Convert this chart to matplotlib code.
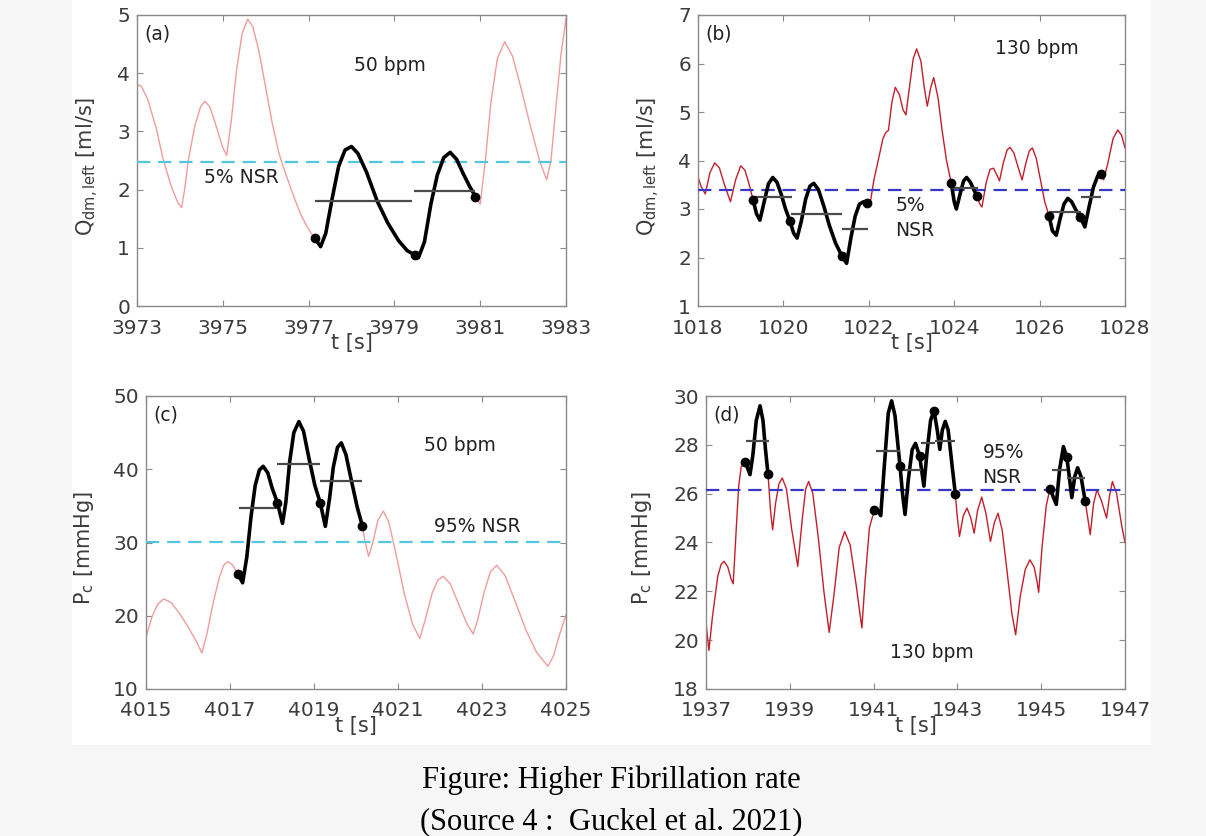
import numpy as np
import matplotlib
matplotlib.use("Agg")
import matplotlib.pyplot as plt
from matplotlib.patches import Rectangle

plt.rcParams['font.family'] = ['DejaVu Sans']
plt.rcParams['mathtext.default'] = 'regular'

# ---------------- data ----------------
# (a) Q_dm,left at 50 bpm
t_a = [3973.00, 3973.10, 3973.25, 3973.45, 3973.60, 3973.80, 3973.95, 3974.04, 3974.12,
       3974.19, 3974.35, 3974.48, 3974.58, 3974.70, 3974.85, 3975.00, 3975.09, 3975.20,
       3975.32, 3975.45, 3975.58, 3975.70, 3975.85, 3976.00, 3976.15, 3976.30, 3976.37,
       3976.50, 3976.68, 3976.80, 3976.95, 3977.05, 3977.14, 3977.28, 3977.40, 3977.55,
       3977.70, 3977.85, 3978.00, 3978.15, 3978.35, 3978.60, 3978.85, 3979.10, 3979.30,
       3979.47, 3979.56, 3979.70, 3979.85, 3980.00, 3980.15, 3980.30, 3980.45, 3980.60,
       3980.75, 3980.89, 3981.00, 3981.12, 3981.25, 3981.40, 3981.57, 3981.75, 3981.95,
       3982.15, 3982.39, 3982.55, 3982.65, 3982.75, 3982.88, 3983.00]
q_a = [3.80, 3.78, 3.55, 3.05, 2.55, 2.05, 1.78, 1.69, 2.05,
       2.48, 3.10, 3.42, 3.52, 3.42, 3.08, 2.72, 2.59, 3.20,
       4.05, 4.68, 4.93, 4.80, 4.35, 3.75, 3.15, 2.65, 2.48,
       2.20, 1.83, 1.60, 1.38, 1.26, 1.17, 1.02, 1.25, 1.85,
       2.40, 2.68, 2.74, 2.62, 2.30, 1.80, 1.42, 1.12, 0.95,
       0.88, 0.83, 1.10, 1.75, 2.25, 2.55, 2.64, 2.52, 2.28,
       2.06, 1.88, 1.75, 2.50, 3.50, 4.25, 4.54, 4.30, 3.75,
       3.15, 2.48, 2.17, 2.50, 3.30, 4.30, 4.94]
dot_a_t = [3977.14, 3979.47, 3980.89]
dot_a_v = [1.17, 0.88, 1.88]
seg_a = [(3977.14, 3980.89)]
hl_a_start = [3977.15, 3979.46]
hl_a_end = [3979.40, 3980.88]
hl_a_level = [1.80, 1.98]
nsr_a = 2.48

# (b) Q_dm,left at 130 bpm
t_b = [1018.00, 1018.08, 1018.17, 1018.28, 1018.39, 1018.50, 1018.62, 1018.76, 1018.88,
       1019.00, 1019.10, 1019.20, 1019.29, 1019.37, 1019.45, 1019.55, 1019.65, 1019.75,
       1019.85, 1019.95, 1020.05, 1020.15, 1020.24, 1020.32, 1020.42, 1020.52, 1020.62,
       1020.71, 1020.82, 1020.95, 1021.08, 1021.22, 1021.37, 1021.48, 1021.58, 1021.68,
       1021.78, 1021.88, 1021.95, 1022.02, 1022.12, 1022.24, 1022.33, 1022.40, 1022.46,
       1022.54, 1022.62, 1022.72, 1022.80, 1022.87, 1022.95, 1023.04, 1023.12, 1023.22,
       1023.30, 1023.37, 1023.45, 1023.52, 1023.62, 1023.72, 1023.82, 1023.93, 1024.00,
       1024.05, 1024.15, 1024.22, 1024.29, 1024.38, 1024.46, 1024.53, 1024.60, 1024.65,
       1024.75, 1024.84, 1024.92, 1025.00, 1025.06, 1025.15, 1025.24, 1025.31, 1025.40,
       1025.50, 1025.59, 1025.68, 1025.76, 1025.83, 1025.92, 1026.02, 1026.12, 1026.22,
       1026.30, 1026.39, 1026.48, 1026.57, 1026.66, 1026.75, 1026.85, 1026.95, 1027.06,
       1027.16, 1027.26, 1027.36, 1027.44, 1027.50, 1027.60, 1027.72, 1027.83, 1027.92,
       1028.00]
q_b = [3.66, 3.45, 3.31, 3.75, 3.95, 3.85, 3.50, 3.15, 3.60,
       3.89, 3.80, 3.50, 3.19, 2.90, 2.77, 3.15, 3.52, 3.65,
       3.55, 3.30, 3.00, 2.76, 2.50, 2.40, 2.75, 3.20, 3.47,
       3.53, 3.40, 3.05, 2.65, 2.30, 2.03, 1.88, 2.40, 2.85,
       3.10, 3.15, 3.13, 3.05, 3.60, 4.08, 4.45, 4.58, 4.62,
       5.20, 5.51, 5.35, 5.05, 4.94, 5.50, 6.10, 6.30, 6.05,
       5.50, 5.12, 5.50, 5.71, 5.30, 4.60, 4.00, 3.54, 3.15,
       3.00, 3.35, 3.58, 3.65, 3.55, 3.40, 3.27, 3.10, 3.04,
       3.55, 3.82, 3.84, 3.70, 3.58, 3.95, 4.22, 4.27, 4.15,
       3.85, 3.60, 3.95, 4.20, 4.26, 4.05, 3.60, 3.15, 2.86,
       2.55, 2.46, 2.80, 3.10, 3.22, 3.15, 2.98, 2.84, 2.63,
       3.05, 3.45, 3.68, 3.72, 3.60, 3.95, 4.45, 4.63, 4.52,
       4.26]
dot_b_t = [1019.29, 1020.15, 1021.37, 1021.95, 1023.93, 1024.53, 1026.22, 1026.95, 1027.44]
dot_b_v = [3.19, 2.76, 2.03, 3.13, 3.54, 3.27, 2.86, 2.84, 3.72]
seg_b = [(1019.29, 1021.95), (1023.93, 1024.53), (1026.22, 1027.44)]
hl_b_start = [1019.29, 1020.17, 1021.38, 1023.93, 1026.22, 1026.96]
hl_b_end = [1020.19, 1021.38, 1021.97, 1024.55, 1026.96, 1027.44]
hl_b_level = [3.24, 2.89, 2.58, 3.43, 2.94, 3.24]
nsr_b = 3.39

# (c) P_c at 50 bpm
t_c = [4015.00, 4015.15, 4015.28, 4015.42, 4015.60, 4015.80, 4016.00, 4016.20, 4016.33,
       4016.45, 4016.60, 4016.75, 4016.85, 4016.95, 4017.05, 4017.12, 4017.19, 4017.30,
       4017.40, 4017.50, 4017.60, 4017.70, 4017.79, 4017.90, 4018.00, 4018.13, 4018.25,
       4018.33, 4018.42, 4018.52, 4018.64, 4018.75, 4018.88, 4019.02, 4019.15, 4019.27,
       4019.37, 4019.46, 4019.56, 4019.65, 4019.76, 4019.90, 4020.03, 4020.15, 4020.22,
       4020.30, 4020.40, 4020.52, 4020.65, 4020.78, 4020.95, 4021.15, 4021.35, 4021.52,
       4021.65, 4021.82, 4021.95, 4022.08, 4022.25, 4022.45, 4022.65, 4022.79, 4022.90,
       4023.05, 4023.20, 4023.35, 4023.55, 4023.80, 4024.05, 4024.30, 4024.57, 4024.70,
       4024.85, 4025.00]
p_c = [17.1, 20.0, 21.6, 22.3, 21.8, 20.3, 18.5, 16.5, 14.9,
       17.5, 21.8, 25.3, 26.9, 27.4, 27.0, 26.4, 25.7, 24.5,
       28.0, 33.5, 37.8, 39.9, 40.4, 39.5, 37.5, 35.4, 32.6,
       35.5, 41.0, 45.0, 46.5, 45.2, 41.5, 37.8, 35.4, 32.2,
       36.0, 40.3, 43.0, 43.6, 42.0, 38.2, 34.8, 32.3, 30.0,
       28.1, 30.0, 33.0, 34.3, 32.8, 28.5, 23.0, 18.8, 16.9,
       19.5, 23.2, 24.9, 25.4, 24.3, 21.5, 18.8, 17.5, 19.5,
       23.2, 26.0, 26.9, 25.5, 21.8, 18.0, 15.0, 13.1, 14.5,
       17.5, 20.1]
dot_c_t = [4017.19, 4018.13, 4019.15, 4020.15]
dot_c_v = [25.7, 35.4, 35.4, 32.3]
seg_c = [(4017.19, 4020.15)]
hl_c_start = [4017.22, 4018.13, 4019.15]
hl_c_end = [4018.13, 4019.15, 4020.15]
hl_c_level = [34.7, 40.7, 38.4]
nsr_c = 30.1

# (d) P_c at 130 bpm
t_d = [1937.00, 1937.07, 1937.15, 1937.28, 1937.36, 1937.43, 1937.52, 1937.60, 1937.65,
       1937.72, 1937.78, 1937.84, 1937.92, 1937.98, 1938.05, 1938.12, 1938.20, 1938.29,
       1938.36, 1938.42, 1938.48, 1938.54, 1938.59, 1938.66, 1938.74, 1938.82, 1938.92,
       1939.04, 1939.19, 1939.30, 1939.38, 1939.45, 1939.55, 1939.68, 1939.82, 1939.94,
       1940.05, 1940.18, 1940.31, 1940.44, 1940.58, 1940.72, 1940.80, 1940.90, 1941.02,
       1941.10, 1941.17, 1941.25, 1941.35, 1941.43, 1941.51, 1941.58, 1941.63, 1941.69,
       1941.75, 1941.83, 1941.92, 1942.00, 1942.10, 1942.20, 1942.28, 1942.36, 1942.44,
       1942.52, 1942.58, 1942.64, 1942.71, 1942.78, 1942.87, 1942.95, 1943.00, 1943.05,
       1943.14, 1943.23, 1943.32, 1943.40, 1943.48, 1943.58, 1943.68, 1943.79, 1943.88,
       1943.97, 1944.07, 1944.20, 1944.30, 1944.39, 1944.50, 1944.62, 1944.73, 1944.83,
       1944.90, 1944.94, 1945.02, 1945.12, 1945.21, 1945.28, 1945.36, 1945.44, 1945.53,
       1945.61, 1945.67, 1945.73, 1945.80, 1945.87, 1945.95, 1946.05, 1946.12, 1946.17,
       1946.25, 1946.33, 1946.44, 1946.56, 1946.63, 1946.70, 1946.80, 1946.92, 1947.00]
p_d = [20.70, 19.58, 20.90, 22.61, 23.10, 23.23, 23.00, 22.50, 22.31,
       24.50, 26.30, 27.10, 27.30, 27.10, 26.78, 27.60, 29.00, 29.60,
       29.00, 27.80, 26.80, 25.30, 24.52, 25.60, 26.40, 26.64, 26.20,
       24.60, 23.02, 25.00, 26.20, 26.50, 26.00, 24.20, 21.90, 20.32,
       21.80, 23.80, 24.45, 23.90, 22.30, 20.50, 22.50, 24.60, 25.35,
       25.30, 25.10, 27.00, 29.30, 29.80, 29.20, 28.00, 27.15, 26.00,
       25.15, 26.60, 27.80, 28.06, 27.53, 26.31, 27.80, 29.00, 29.40,
       28.60, 27.81, 28.60, 28.96, 28.60, 27.20, 26.00, 25.00, 24.25,
       25.10, 25.41, 25.00, 24.38, 25.30, 25.86, 25.20, 24.04, 24.80,
       25.20, 24.50, 22.60, 21.10, 20.22, 21.80, 22.90, 23.29, 23.00,
       22.40, 21.96, 23.80, 25.50, 26.20, 25.90, 25.56, 27.00, 27.93,
       27.50, 26.70, 25.84, 26.70, 27.06, 26.70, 25.70, 24.90, 24.32,
       25.60, 26.16, 25.70, 25.00, 25.90, 26.50, 26.00, 24.70, 24.00]
dot_d_t = [1937.92, 1938.48, 1941.02, 1941.63, 1942.10, 1942.44, 1942.95, 1945.21, 1945.61, 1946.05]
dot_d_v = [27.30, 26.80, 25.35, 27.15, 27.53, 29.40, 26.00, 26.20, 27.50, 25.70]
seg_d = [(1937.92, 1938.48), (1941.02, 1942.95), (1945.21, 1946.05)]
hl_d_start = [1937.95, 1941.05, 1941.66, 1942.12, 1942.46, 1945.25, 1945.61]
hl_d_end = [1938.51, 1941.63, 1942.12, 1942.46, 1942.95, 1945.61, 1946.05]
hl_d_level = [28.17, 27.75, 26.95, 28.08, 28.17, 26.95, 26.65]
nsr_d = 26.13

# ---------------- figure ----------------
W, H = 1206, 836
fig = plt.figure(figsize=(W / 100, H / 100), dpi=100)
fig.patch.set_facecolor('#f6f6f6')
fig.add_artist(Rectangle((72 / W, 1 - 745 / H), (1151 - 72) / W, 745 / H,
                         transform=fig.transFigure, facecolor='white',
                         edgecolor='none', zorder=0))

ax_a = fig.add_axes([137 / W, 1 - 306 / H, (566 - 137) / W, 291 / H])
ax_b = fig.add_axes([698 / W, 1 - 306 / H, (1125 - 698) / W, 291 / H])
ax_c = fig.add_axes([146 / W, 1 - 689 / H, (566 - 146) / W, 293 / H])
ax_d = fig.add_axes([706 / W, 1 - 689 / H, (1125 - 706) / W, 293 / H])

light = '#f09c9c'
dark = '#c41e2a'
cyan = '#52c8e0'
blue = '#3838c8'
tick_col = '#3c3c3c'


def panel(ax, t, v, col, dots_t, dots_v, segs, hs, he, hv, nsr, nsr_col,
          xlim, ylim, xt, yt, ylab, lab_x, tag):
    t = np.asarray(t)
    v = np.asarray(v)
    ax.plot(t, v, color=col, lw=1.0, zorder=2)
    ax.axhline(nsr, color=nsr_col, lw=1.6, dashes=(6, 3.5), zorder=3)
    for s, e in segs:
        m = (t >= s - 1e-9) & (t <= e + 1e-9)
        ax.plot(t[m], v[m], color='black', lw=2.6, zorder=4,
                solid_capstyle='round', solid_joinstyle='round')
    ax.hlines(hv, hs, he, colors='#4a4a4a', lw=1.6, zorder=4)
    ax.plot(dots_t, dots_v, 'o', color='black', ms=6, zorder=5)
    ax.set_xlim(*xlim)
    ax.set_ylim(*ylim)
    ax.set_xticks(xt)
    ax.set_yticks(yt)
    ax.tick_params(direction='in', length=4, width=0.8, colors='#8a8a8a',
                   labelcolor=tick_col, labelsize=14.5, top=True, right=True)
    ax.tick_params(axis='x', pad=9)
    ax.tick_params(axis='y', pad=5)
    for s in ax.spines.values():
        s.set_color('#8a8a8a')
        s.set_linewidth(1.0)
    ax.set_xlabel('t [s]', fontsize=15, color=tick_col, labelpad=-3)
    ax.set_ylabel(ylab, fontsize=15, color=tick_col)
    ax.yaxis.set_label_coords(lab_x, 0.48)
    ax.text(0.017, 0.935, tag, transform=ax.transAxes, fontsize=13.5,
            color='#222222', ha='left', va='center')


panel(ax_a, t_a, q_a, light, dot_a_t, dot_a_v, seg_a, hl_a_start, hl_a_end, hl_a_level,
      nsr_a, cyan, (3973, 3983), (0, 5), [3973, 3975, 3977, 3979, 3981, 3983],
      [0, 1, 2, 3, 4, 5], 'Q$_{dm,left}$ [ml/s]', -0.084, '(a)')
panel(ax_b, t_b, q_b, dark, dot_b_t, dot_b_v, seg_b, hl_b_start, hl_b_end, hl_b_level,
      nsr_b, blue, (1018, 1028), (1, 7), [1018, 1020, 1022, 1024, 1026, 1028],
      [1, 2, 3, 4, 5, 6, 7], 'Q$_{dm,left}$ [ml/s]', -0.084, '(b)')
panel(ax_c, t_c, p_c, light, dot_c_t, dot_c_v, seg_c, hl_c_start, hl_c_end, hl_c_level,
      nsr_c, cyan, (4015, 4025), (10, 50), [4015, 4017, 4019, 4021, 4023, 4025],
      [10, 20, 30, 40, 50], 'P$_c$ [mmHg]', -0.119, '(c)')
panel(ax_d, t_d, p_d, dark, dot_d_t, dot_d_v, seg_d, hl_d_start, hl_d_end, hl_d_level,
      nsr_d, blue, (1937, 1947), (18, 30), [1937, 1939, 1941, 1943, 1945, 1947],
      [18, 20, 22, 24, 26, 28, 30], 'P$_c$ [mmHg]', -0.124, '(d)')

# annotations
ann = dict(fontsize=13.5, color='#222222')
ax_a.text(3978.9, 4.14, '50 bpm', ha='center', va='center', **ann)
ax_a.text(3975.43, 2.20, '5% NSR', ha='center', va='center', **ann)
ax_b.text(1025.93, 6.31, '130 bpm', ha='center', va='center', **ann)
ax_b.text(1022.62, 2.82, '5%\nNSR', ha='left', va='center', linespacing=1.4, **ann)
ax_c.text(4022.48, 43.2, '50 bpm', ha='center', va='center', **ann)
ax_c.text(4022.9, 32.2, '95% NSR', ha='center', va='center', **ann)
ax_d.text(1943.6, 27.18, '95%\nNSR', ha='left', va='center', linespacing=1.4, **ann)
ax_d.text(1942.4, 19.51, '130 bpm', ha='center', va='center', **ann)

# caption
cap = dict(fontsize=22, family='Liberation Serif', color='black', ha='center',
           va='baseline')
fig.text(611 / W, 1 - 788 / H, 'Figure: Higher Fibrillation rate', **cap)
fig.text(611 / W, 1 - 829 / H, '(Source 4 :  Guckel et al. 2021)', **cap)

fig.savefig('out.png', dpi=100, facecolor=fig.get_facecolor())
